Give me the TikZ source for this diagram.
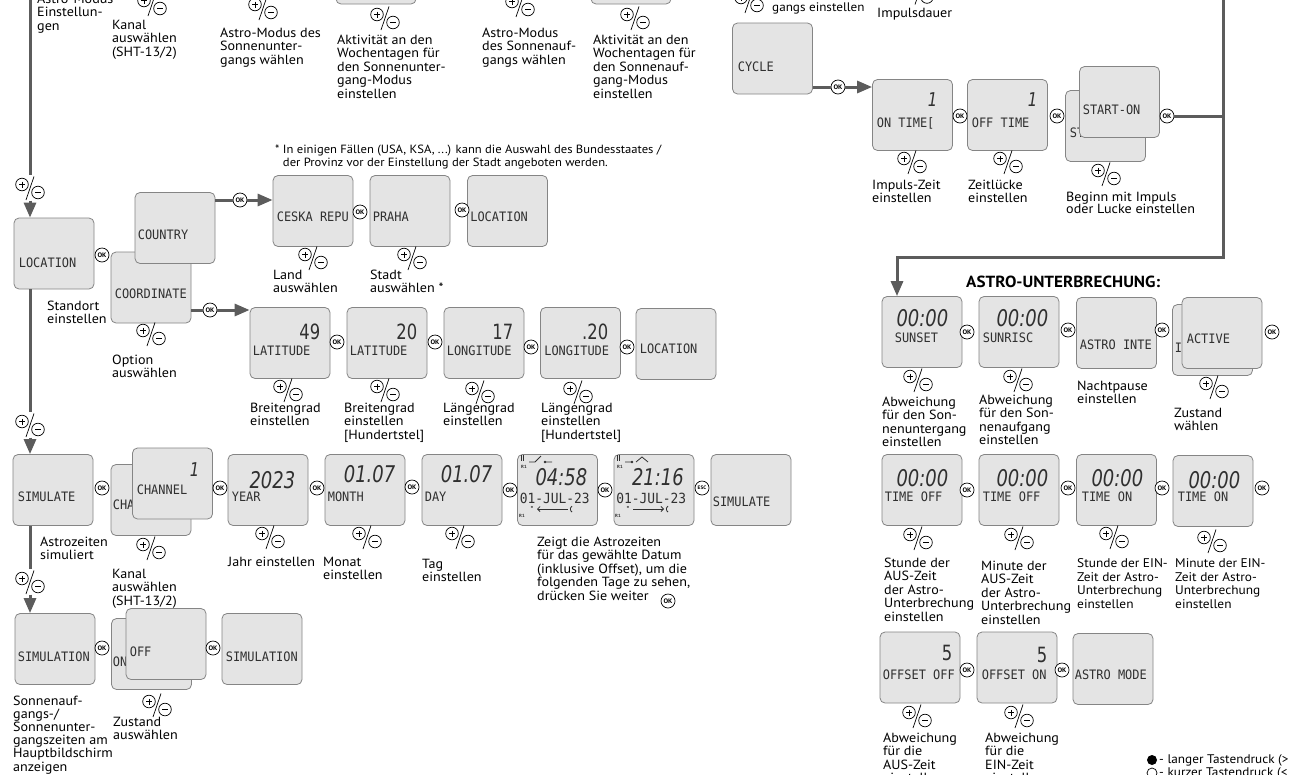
\documentclass[tikz,border=0pt]{standalone}
\usepackage{fontspec}
\setmainfont[FakeStretch=1.06]{PT Sans}
\newfontfamily\lcdfont[FakeStretch=0.92]{DejaVu Sans Mono}
\newfontfamily\segfont[FakeStretch=0.78]{DejaVu Sans}
\usetikzlibrary{arrows.meta,positioning}

\definecolor{lcdfill}{HTML}{E4E4E4}
\definecolor{lcdrim}{HTML}{858585}
\definecolor{lcdink}{HTML}{303030}
\definecolor{wire}{HTML}{5C5C5C}

\tikzset{
  lcd/.style={draw=lcdrim, fill=lcdfill, line width=0.8pt, rounded corners=5pt,
    minimum width=80pt, minimum height=71pt, inner sep=0pt},
  lcdtext/.style={anchor=west, inner sep=0pt, text=lcdink,
    font=\lcdfont\fontsize{13}{13}\selectfont},
  seg/.style={anchor=east, inner sep=0pt, text=lcdink,
    font=\segfont\itshape\fontsize{23}{23}\selectfont},
  upright/.style={font=\segfont\fontsize{21}{21}\selectfont},
  slim/.style={font=\segfont\itshape\fontsize{19}{19}\selectfont},
  tinytext/.style={inner sep=0pt, text=lcdink, font=\bfseries\fontsize{4.5}{4.5}\selectfont},
  ok/.style={circle, draw, fill=white, line width=0.7pt, inner sep=0pt,
    minimum size=14pt, font=\bfseries\fontsize{6.5}{6.5}\selectfont},
  note/.style={anchor=north west, align=left, inner sep=0pt,
    font=\fontsize{13.3}{13.5}\selectfont},
  spine/.style={draw=wire, line width=3pt},
  flow/.style={spine, -{Triangle[length=15pt,width=12pt]}},
  pm/.style={rectangle, fill=white, fill opacity=0, inner sep=0pt,
    minimum width=32pt, minimum height=25pt, path picture={
      \begin{scope}[shift={(path picture bounding box.center)}, line width=0.7pt]
        \draw (-8,-3.5) circle[radius=6.3pt];
        \draw (-11,-3.5) -- (-5,-3.5) (-8,-6.5) -- (-8,-0.5);
        \draw (8,4.5) circle[radius=6.3pt];
        \draw (5,4.5) -- (11,4.5);
        \draw (4,-11.5) -- (-4,12);
      \end{scope}}}
}

% box with its display text: name, centre, text offset, text
\newcommand{\lcdscreen}[4]{%
  \node[lcd] (#1) at (#2) {};
  \node[lcdtext] (#1-t) at ([shift={(#3)}]#1.west) {#4};}
% large digits, placed from the right edge of a box
\newcommand{\lcdvalue}[4]{%
  \node[seg,#3] (#1-v) at ([shift={(#2)}]#1.east) {#4};}

\begin{document}
\begin{tikzpicture}[x=1pt,y=-1pt]
\fill[white] (0,0) rectangle (1289,774);
\useasboundingbox (0,0) rectangle (1289,774);

%% top row, cut by the page
\node[lcd] (setDaysDusk) at (376,-31.5) {};
\node[lcd] (setDaysDawn) at (631,-31.5) {};
\node[pm] (pmChannelTop) at (152,4) {};
\node[pm] (pmDusk) at (263,8) {};
\node[pm] (pmDaysDusk) at (385,18) {};
\node[pm] (pmDawn) at (520,5) {};
\node[pm] (pmDaysDawn) at (635,18) {};
\node[pm] (pmCycleTop) at (749,1) {};
\node[pm] (pmPulse) at (919,-7.5) {};
\node[note] (noteAstro) at (37,-6.5) {Astro-Modus\\Einstellun-\\gen};
\node[note] (noteChannelTop) at (112,19.5) {Kanal\\auswählen\\(SHT-13/2)};
\node[note] (noteDusk) at (220,27.5) {Astro-Modus des\\Sonnenunter-\\gangs wählen};
\node[note] (noteDaysDusk) at (337,34.5) {Aktivität an den\\Wochentagen für\\den Sonnenunter-\\gang-Modus\\einstellen};
\node[note] (noteDawn) at (482,27.5) {Astro-Modus\\des Sonnenauf-\\gangs wählen};
\node[note] (noteDaysDawn) at (593,34.5) {Aktivität an den\\Wochentagen für\\den Sonnenauf-\\gang-Modus\\einstellen};
\node[note, font=\fontsize{12.4}{13}\selectfont] (noteCycleTop) at (772,2.5) {gangs einstellen};
\node[note] (notePulse) at (877,7.5) {Impulsdauer};

%% location
\lcdscreen{coord}{151,287.5}{4,6.5}{COORDINATE}
\lcdscreen{country}{175,228}{3,7}{COUNTRY}
\lcdscreen{location}{54,253.5}{5,9}{LOCATION}
\lcdscreen{ceska}{313,211}{4,6}{CESKA REPU}
\lcdscreen{praha}{410,211}{3,6}{PRAHA}
\lcdscreen{cityDone}{507.5,211}{3,6}{LOCATION}
\lcdscreen{lat}{290,343}{3,7.5}{LATITUDE}
\lcdscreen{latDec}{387,343}{3,7.5}{LATITUDE}
\lcdscreen{lon}{484,343}{3,7.5}{LONGITUDE}
\lcdscreen{lonDec}{580.5,343}{4,7.5}{LONGITUDE}
\lcdscreen{coordDone}{676,344}{4,5}{LOCATION}
\lcdvalue{lat}{-10,-11}{upright}{49}
\lcdvalue{latDec}{-10,-11}{upright}{20}
\lcdvalue{lon}{-11,-11}{upright}{17}
\lcdvalue{lonDec}{-12.5,-11}{upright}{.20}

\node[ok] (okLocation) at (102,255) {OK};
\node[ok] (okCountry) at (240,200) {OK};
\node[ok] (okCity) at (360,212) {OK};
\node[ok] (okCityDone) at (462,210) {OK};
\node[ok] (okCoord) at (210,310) {OK};
\node[ok] (okLat) at (337,342) {OK};
\node[ok] (okLatDec) at (435,342) {OK};
\node[ok] (okLon) at (531,347) {OK};
\node[ok] (okLonDec) at (627,347) {OK};

\draw[spine] (okCountry -| country.east) -- (okCountry);
\draw[flow] (okCountry) -- (okCountry -| ceska.west);
\draw[spine] (okCoord -| coord.east) -- (okCoord);
\draw[flow] (okCoord) -- (okCoord -| lat.west);

\node[pm] (pmCountry) at (313,258) {};
\node[pm] (pmCity) at (412,258) {};
\node[pm] (pmOption) at (151,334) {};
\node[pm] (pmLat) at (288,390) {};
\node[pm] (pmLatDec) at (385,390) {};
\node[pm] (pmLon) at (480,392) {};
\node[pm] (pmLonDec) at (578,392) {};

\node[note, font=\fontsize{11.9}{13}\selectfont] (noteStates) at (275,145) {* In einigen Fällen (USA, KSA, ...) kann die Auswahl des Bundesstaates /\\\hphantom{* }der Provinz vor der Einstellung der Stadt angeboten werden.};
\node[note] (noteCountry) at (273,269.5) {Land\\auswählen};
\node[note] (noteCity) at (370,269.5) {Stadt\\auswählen *};
\node[note] (noteLocation) at (47,300.5) {Standort\\einstellen};
\node[note] (noteOption) at (112,354.5) {Option\\auswählen};
\node[note] (noteLat) at (250,402.5) {Breitengrad\\einstellen};
\node[note] (noteLatDec) at (344,402.5) {Breitengrad\\einstellen\\{[Hundertstel]}};
\node[note] (noteLon) at (443,402.5) {Längengrad\\einstellen};
\node[note] (noteLonDec) at (541,402.5) {Längengrad\\einstellen\\{[Hundertstel]}};

%% left spine
\coordinate (spineTop) at (30,-5);
\node[pm] (pmLocation) at (30,188) {};
\node[pm] (pmSimulate) at (30,425) {};
\node[pm] (pmSimulation) at (30,582) {};

%% simulation of astro times
\lcdscreen{simulate}{53,490}{5,7}{SIMULATE}
\lcdscreen{chanBack}{151,500}{2,5}{CHANNEL}
\lcdscreen{chan}{172.5,483.5}{4.5,6.5}{CHANNEL}
\lcdvalue{chan}{-13.5,-13.5}{slim}{1}
\lcdscreen{year}{268,490}{4,7}{YEAR}
\lcdvalue{year}{-13,-10}{}{2023}
\lcdscreen{month}{365,490}{3,7}{MONTH}
\lcdvalue{month}{-10,-16}{}{01.07}
\lcdscreen{day}{462,490}{3,7}{DAY}
\lcdvalue{day}{-10,-16}{}{01.07}
\lcdscreen{dawnTime}{557.5,490}{2.5,8}{{\fontsize{14}{14}\selectfont 01-JUL-23}}
\lcdvalue{dawnTime}{-10.5,-13}{}{04:58}
\lcdscreen{duskTime}{654,490}{2.5,8}{{\fontsize{14}{14}\selectfont 01-JUL-23}}
\lcdvalue{duskTime}{-10.5,-13}{}{21:16}
\lcdscreen{simEnd}{751,490}{2,12}{SIMULATE}

% relay marks inside the two date screens
\node[tinytext] (dawnTime-r) at (524,467) {R1};
\node[tinytext] (dawnTime-rb) at (522,516) {R1};
\draw[lcdink, line width=0.8pt] (521,455) -- (521,461) (523,455) -- (523,461);
\draw[lcdink, line width=0.8pt] (529,462) -- (535,462) -- (541,456) (545,462) -- (552,462);
\fill[lcdink] (545,462) circle[radius=1.3pt];
\node[tinytext, font=\bfseries\fontsize{7}{7}\selectfont] (dawnTime-s) at (532,509) {*};
\draw[lcdink, line width=0.8pt, {Straight Barb[length=2.5pt]}-] (537,509) -- (568,509);
\draw[lcdink, line width=0.8pt] (572,506) arc[start angle=120, end angle=240, radius=3.5pt];
\node[tinytext] (duskTime-r) at (620,467) {R1};
\node[tinytext] (duskTime-rb) at (618,516) {R1};
\draw[lcdink, line width=0.8pt] (617,455) -- (617,461) (619,455) -- (619,461);
\draw[lcdink, line width=0.8pt] (625,462) -- (632,462) (636,462) -- (642,457) -- (648,462);
\fill[lcdink] (632,462) circle[radius=1.3pt];
\node[tinytext, font=\bfseries\fontsize{7}{7}\selectfont] (duskTime-s) at (628,509) {*};
\draw[lcdink, line width=0.8pt, -{Straight Barb[length=2.5pt]}] (633,509) -- (664,509);
\draw[lcdink, line width=0.8pt] (668,506) arc[start angle=120, end angle=240, radius=3.5pt];

\node[ok] (okSimulate) at (102,488) {OK};
\node[ok] (okChan) at (220,488) {OK};
\node[ok] (okYear) at (317,488) {OK};
\node[ok] (okMonth) at (412,487) {OK};
\node[ok] (okDay) at (510,490) {OK};
\node[ok] (okDawn) at (605,490) {OK};
\node[ok, font=\bfseries\fontsize{5}{5}\selectfont] (escSim) at (702,488) {ESC};

\node[pm] (pmChan) at (151,548) {};
\node[pm] (pmYear) at (270,537) {};
\node[pm] (pmMonth) at (367,537) {};
\node[pm] (pmDay) at (460,537) {};

\node[note] (noteSimulate) at (40,536.5) {Astrozeiten\\simuliert};
\node[note] (noteChan) at (112,568.5) {Kanal\\auswählen\\(SHT-13/2)};
\node[note] (noteYear) at (228,556.5) {Jahr einstellen};
\node[note] (noteMonth) at (323,556.5) {Monat\\einstellen};
\node[note] (noteDay) at (422,558.5) {Tag\\einstellen};
\node[note] (noteTimes) at (537,536.5) {Zeigt die Astrozeiten\\für das gewählte Datum\\(inklusive Offset), um die\\folgenden Tage zu sehen,\\drücken Sie weiter};
\node[ok] (okMore) at (668,601) {OK};

%% simulation on the main screen
\lcdscreen{simulation}{55,649}{3,8}{SIMULATION}
\lcdscreen{simOn}{151.5,654}{1.5,8}{ON}
\lcdscreen{simOff}{166,644}{4,8}{OFF}
\lcdscreen{simDone}{262,649}{4,8}{SIMULATION}
\node[ok] (okSimulation) at (102,648) {OK};
\node[ok] (okSimOff) at (213,648) {OK};
\node[pm] (pmSimOff) at (157,705) {};
\node[note, font=\fontsize{13.3}{13.2}\selectfont] (noteSimulation) at (13,695.5) {Sonnenauf-\\gangs-/\\Sonnenunter-\\gangszeiten am\\Hauptbildschirm\\anzeigen};
\node[note] (noteSimOff) at (113,716.5) {Zustand\\auswählen};

\draw[spine] (spineTop) -- (pmLocation);
\draw[flow] (pmLocation) -- (pmLocation |- location.north);
\draw[spine] (location.south -| pmSimulate) -- (pmSimulate);
\draw[flow] (pmSimulate) -- (pmSimulate |- simulate.north);
\draw[spine] (simulate.south -| pmSimulation) -- (pmSimulation);
\draw[flow] (pmSimulation) -- (pmSimulation |- simulation.north);

%% cycle
\lcdscreen{cycle}{772.5,58.5}{5.5,8.5}{CYCLE}
\lcdscreen{onTime}{912.5,115}{4.5,8}{ON TIME[}
\lcdvalue{onTime}{-15.5,-15}{slim}{1}
\lcdscreen{offTime}{1007.5,115}{4.5,8}{OFF TIME}
\lcdvalue{offTime}{-10.5,-15}{slim}{1}
\lcdscreen{startBack}{1105.5,126}{4.5,7}{START-OFF}
\lcdscreen{start}{1119.5,102}{3.5,8}{START-ON}
\node[ok] (okCycle) at (838,87) {OK};
\node[ok] (okOnTime) at (960,116) {OK};
\node[ok] (okOffTime) at (1057,116) {OK};
\node[ok] (okStart) at (1167,116) {OK};
\draw[spine] (okCycle -| cycle.east) -- (okCycle);
\draw[flow] (okCycle) -- (okCycle -| onTime.west);
\node[pm] (pmOnTime) at (912,162) {};
\node[pm] (pmOffTime) at (1008,162) {};
\node[pm] (pmStart) at (1106,174) {};
\node[note] (noteOnTime) at (872,179.5) {Impuls-Zeit\\einstellen};
\node[note] (noteOffTime) at (968,179.5) {Zeitlücke\\einstellen};
\node[note, font=\fontsize{13.3}{12.5}\selectfont] (noteStart) at (1066,191.5) {Beginn mit Impuls\\oder Lucke einstellen};

%% astro interruption
\node[anchor=west, inner sep=0pt, font=\bfseries\fontsize{16.1}{16}\selectfont] (titlePause) at (966,282) {ASTRO-UNTERBRECHUNG:};
\lcdscreen{sunset}{922,332}{13,6}{SUNSET}
\lcdvalue{sunset}{-14,-14}{}{00:00}
\lcdscreen{sunrise}{1019,332}{4,6}{SUNRISC}
\lcdvalue{sunrise}{-11,-14}{}{00:00}
\lcdscreen{pause}{1116.5,333}{3.5,12}{ASTRO INTE}
\lcdscreen{stateBack}{1212.5,340}{2.5,8}{I}
\lcdscreen{state}{1222,333}{5,6}{ACTIVE}
\lcdscreen{offHour}{922,490}{3,7}{TIME OFF}
\lcdvalue{offHour}{-14,-12}{}{00:00}
\lcdscreen{offMin}{1019,490}{4,7}{TIME OFF}
\lcdvalue{offMin}{-11,-12}{}{00:00}
\lcdscreen{onHour}{1116.5,490}{5.5,7}{TIME ON}
\lcdvalue{onHour}{-13.5,-12}{}{00:00}
\lcdscreen{onMin}{1213,491}{5,6}{TIME ON}
\lcdvalue{onMin}{-13,-11}{}{00:00}
\lcdscreen{offsetOff}{920,667.5}{3,7.5}{OFFSET OFF}
\lcdvalue{offsetOff}{-8,-14.5}{upright}{5}
\lcdscreen{offsetOn}{1017,667.5}{5,7.5}{OFFSET ON}
\lcdvalue{offsetOn}{-10,-12.5}{upright}{5}
\lcdscreen{astroMode}{1113,669}{2,6}{ASTRO MODE}

%% right spine down to the interruption
\coordinate (rightTop) at (1223,-5);
\coordinate (rightDrop) at (897,257);
\draw[spine] (okStart) -- (okStart -| rightTop);
\draw[flow] (rightTop) |- (rightDrop) -- (rightDrop |- sunset.north);

\node[ok] (okSunset) at (967,332) {OK};
\node[ok] (okSunrise) at (1068,330) {OK};
\node[ok] (okPause) at (1162,330) {OK};
\node[ok] (okState) at (1272,332) {OK};
\node[ok] (okOffHour) at (967,490) {OK};
\node[ok] (okOffMin) at (1068,488) {OK};
\node[ok] (okOnHour) at (1162,488) {OK};
\node[ok] (okOnMin) at (1262,488) {OK};
\node[ok] (okOffsetOff) at (967,670) {OK};
\node[ok] (okOffsetOn) at (1062,670) {OK};

\node[pm] (pmSunset) at (918,380) {};
\node[pm] (pmSunrise) at (1018,380) {};
\node[pm] (pmState) at (1214,387) {};
\node[pm] (pmOffHour) at (918,538) {};
\node[pm] (pmOffMin) at (1019,538) {};
\node[pm] (pmOnHour) at (1114,537) {};
\node[pm] (pmOnMin) at (1212,541) {};
\node[pm] (pmOffsetOff) at (917,716) {};
\node[pm] (pmOffsetOn) at (1019,716) {};

\node[note] (noteSunset) at (882,396.5) {Abweichung\\für den Son-\\nenuntergang\\einstellen};
\node[note] (noteSunrise) at (979,394.5) {Abweichung\\für den Son-\\nenaufgang\\einstellen};
\node[note] (notePause) at (1077,380.5) {Nachtpause\\einstellen};
\node[note] (noteState) at (1174,407.5) {Zustand\\wählen};
\node[note] (noteOffHour) at (884,557.5) {Stunde der\\AUS-Zeit\\der Astro-\\Unterbrechung\\einstellen};
\node[note] (noteOffMin) at (981,560.5) {Minute der\\AUS-Zeit\\der Astro-\\Unterbrechung\\einstellen};
\node[note, font=\fontsize{12.6}{13.5}\selectfont] (noteOnHour) at (1077,558.5) {Stunde der EIN-\\Zeit der Astro-\\Unterbrechung\\einstellen};
\node[note, font=\fontsize{12.6}{13.5}\selectfont] (noteOnMin) at (1175,558.5) {Minute der EIN-\\Zeit der Astro-\\Unterbrechung\\einstellen};
\node[note] (noteOffsetOff) at (883,732.5) {Abweichung\\für die\\AUS-Zeit\\einstellen};
\node[note] (noteOffsetOn) at (985,732.5) {Abweichung\\für die\\EIN-Zeit\\einstellen};

%% key
\node[circle, fill=black, inner sep=0pt, minimum size=10pt] (keyLong) at (1152,760) {};
\node[anchor=west, inner sep=0pt, font=\fontsize{12.5}{13}\selectfont] (keyLongText) at (1159,760) {- langer Tastendruck (>};
\node[circle, draw, line width=0.7pt, inner sep=0pt, minimum size=10pt] (keyShort) at (1152,773) {};
\node[anchor=west, inner sep=0pt, font=\fontsize{12.5}{13}\selectfont] (keyShortText) at (1159,773) {- kurzer Tastendruck (<};
\end{tikzpicture}
\end{document}
